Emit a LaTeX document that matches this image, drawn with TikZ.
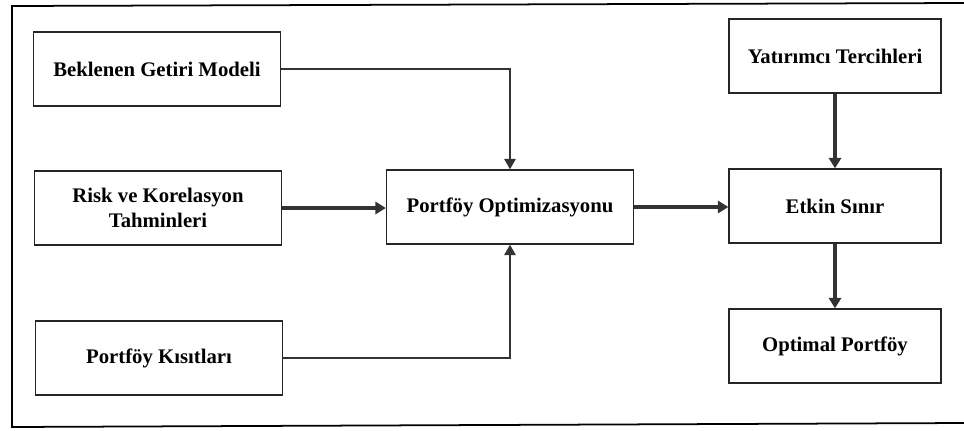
\documentclass[tikz,border=0pt]{standalone}
\usepackage{fontspec}
\setmainfont{Liberation Serif}
\usetikzlibrary{arrows.meta}
\tikzset{
  kutu/.style={draw=black!85, line width=0.8pt, minimum width=4.94cm,
    minimum height=1.48cm, align=center,
    font=\bfseries\fontsize{11.8}{14}\selectfont},
  darkutu/.style={kutu, minimum width=4.24cm},
  ok/.style={draw=black!80, line width=1.2pt, -{Triangle[length=6pt,width=6.5pt]}},
  kalinok/.style={draw=black!80, line width=2.4pt, -{Triangle[length=6pt,width=7pt]}}
}
\begin{document}
\begin{tikzpicture}[x=0.02cm, y=-0.02cm]
    \useasboundingbox (0,0) rectangle (964,430);
    % frame
    \draw[line width=1pt] (964,3) -- (12,6) -- (12,427) -- (964,423);

    \node[kutu] (getiri) at (157,69) {Beklenen Getiri Modeli};
    \node[kutu] (risk) at (158,208) {Risk ve Korelasyon\\Tahminleri};
    \node[kutu] (kisit) at (159,358) {Portföy Kısıtları};
    \node[kutu] (port) at (510,207) {Portföy Optimizasyonu};
    \node[darkutu] (tercih) at (835,56) {Yatırımcı Tercihleri};
    \node[darkutu] (etkin) at (835,206) {Etkin Sınır};
    \node[darkutu] (optimal) at (835,346) {Optimal Portföy};

    \draw[ok] (getiri.east) -| (port.north);
    \draw[kalinok] (risk.east) -- (risk.east -| port.west);
    \draw[ok] (kisit.east) -| (port.south);
    \draw[kalinok] (port.east) -- (port.east -| etkin.west);
    \draw[kalinok] (tercih.south) -- (etkin.north);
    \draw[kalinok] (etkin.south) -- (optimal.north);
\end{tikzpicture}
\end{document}
